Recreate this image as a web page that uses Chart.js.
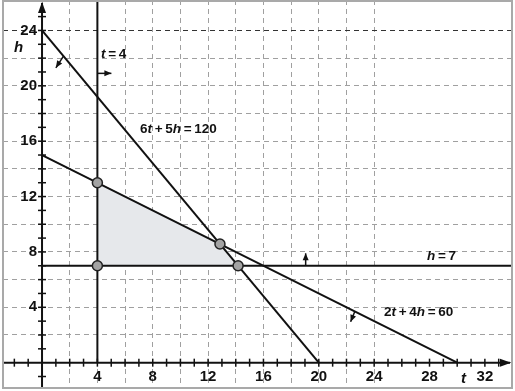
<!DOCTYPE html>
<html>
<head>
<meta charset="utf-8">
<script src="https://cdn.jsdelivr.net/npm/chart.js@4/dist/chart.umd.min.js"></script>
<style>
  html, body { margin: 0; padding: 0; background: #fff; }
  #graph { display: block; }
</style>
</head>
<body>
<canvas id="graph" width="515" height="391"></canvas>
<script>
// Axis ranges (t across, h up)
const tRange = [-2.82, 33.96];
const hRange = [-1.83, 26.2];
const tTickLabels = [4, 8, 12, 16, 20, 24, 28, 32];
const hTickLabels = [4, 8, 12, 16, 20, 24];

// Constraint lines, as [t, h] end points
const line6t5h = [[0, 24], [20, 0]];
const lineT4 = [[4, 0], [4, 26.2]];
const line2t4h = [[0, 15], [30, 0]];
const lineH7 = [[0, 7], [33.96, 7]];

// Feasible region and its corners
const feasibleRegion = [[4, 7], [4, 13], [12.857, 8.571], [14.167, 7], [4, 7]];
const cornerPoints = [[4, 7], [4, 13], [12.857, 8.571], [14.167, 7]];

const toXY = pts => pts.map(p => ({ x: p[0], y: p[1] }));

const FONT = '"Liberation Sans Narrow", "Arial Narrow", "Liberation Sans", sans-serif';
const SP = '\u2009';

// Draw a label made of upright and italic pieces
function drawMath(ctx, x, y, parts, size) {
    let cx = x;
    parts.forEach(([text, italic]) => {
        ctx.font = (italic ? 'italic ' : '') + 'bold ' + size + 'px ' + FONT;
        ctx.fillText(text, cx, y);
        cx += ctx.measureText(text).width;
    });
}

function arrowHead(ctx, x1, y1, x2, y2, len, wid) {
    const a = Math.atan2(y2 - y1, x2 - x1);
    ctx.beginPath();
    ctx.moveTo(x2, y2);
    ctx.lineTo(x2 - len * Math.cos(a) + wid * Math.sin(a), y2 - len * Math.sin(a) - wid * Math.cos(a));
    ctx.lineTo(x2 - len * Math.cos(a) - wid * Math.sin(a), y2 - len * Math.sin(a) + wid * Math.cos(a));
    ctx.closePath();
    ctx.fill();
}

function arrow(ctx, x1, y1, x2, y2) {
    ctx.beginPath();
    ctx.moveTo(x1, y1);
    ctx.lineTo(x2, y2);
    ctx.stroke();
    arrowHead(ctx, x1, y1, x2, y2, 7, 3);
}

// Axes, ticks, frame and labels drawn on the chart's own scales
const axesPlugin = {
    id: 'axesPlugin',
    beforeDatasetsDraw(chart) {
        const { ctx, scales: { x, y }, chartArea: area } = chart;
        const x0 = x.getPixelForValue(0), y0 = y.getPixelForValue(0);
        ctx.save();
        ctx.strokeStyle = '#111';
        ctx.fillStyle = '#111';
        ctx.lineWidth = 2;
        // horizontal axis
        ctx.beginPath();
        ctx.moveTo(area.left, y0);
        ctx.lineTo(area.right - 2, y0);
        ctx.stroke();
        arrowHead(ctx, area.left, y0, area.right - 1, y0, 11, 4);
        // vertical axis
        ctx.beginPath();
        ctx.moveTo(x0, area.bottom);
        ctx.lineTo(x0, area.top + 3);
        ctx.stroke();
        arrowHead(ctx, x0, area.bottom, x0, area.top + 2, 11, 4);
        // minor ticks
        ctx.lineWidth = 1.5;
        for (let t = -2; t <= 33; t++) {
            if (t === 0) continue;
            const px = x.getPixelForValue(t);
            ctx.beginPath();
            ctx.moveTo(px, y0 - 4);
            ctx.lineTo(px, y0 + 4);
            ctx.stroke();
        }
        for (let h = -1; h <= 25; h++) {
            if (h === 0) continue;
            const py = y.getPixelForValue(h);
            ctx.beginPath();
            ctx.moveTo(x0 - 4, py);
            ctx.lineTo(x0 + 4, py);
            ctx.stroke();
        }
        ctx.restore();
    },
    afterDatasetsDraw(chart) {
        const { ctx, scales: { x, y }, chartArea: area } = chart;
        const x0 = x.getPixelForValue(0), y0 = y.getPixelForValue(0);
        const px = t => x.getPixelForValue(t), py = h => y.getPixelForValue(h);
        ctx.save();
        ctx.fillStyle = '#111';
        ctx.strokeStyle = '#111';
        ctx.lineWidth = 1.5;

        // tick labels
        ctx.font = 'bold 15px ' + FONT;
        ctx.textAlign = 'center';
        ctx.textBaseline = 'top';
        tTickLabels.forEach(v => ctx.fillText(String(v), px(v), y0 + 7));
        ctx.textAlign = 'right';
        ctx.textBaseline = 'middle';
        hTickLabels.forEach(v => ctx.fillText(String(v), x0 - 5, py(v)));

        // axis names
        ctx.textAlign = 'left';
        ctx.textBaseline = 'alphabetic';
        drawMath(ctx, 461, 383, [['t', true]], 15);
        drawMath(ctx, 14, 52, [['h', true]], 15);

        // constraint labels
        drawMath(ctx, 101, 58, [['t', true], [SP + '=' + SP + '4', false]], 13.5);
        drawMath(ctx, 140, 133, [['6', false], ['t', true], [SP + '+' + SP + '5', false], ['h', true], [SP + '=' + SP + '120', false]], 13.5);
        drawMath(ctx, 427, 260, [['h', true], [SP + '=' + SP + '7', false]], 13.5);
        drawMath(ctx, 384, 316, [['2', false], ['t', true], [SP + '+' + SP + '4', false], ['h', true], [SP + '=' + SP + '60', false]], 13.5);

        // direction arrows
        arrow(ctx, px(4), py(20.9), px(4) + 14, py(20.9));
        arrow(ctx, px(1.55), py(22.15), px(1.0), py(21.3));
        arrow(ctx, px(19.05), py(7), px(19.05), py(7.9));
        arrow(ctx, px(22.6), py(3.7), px(22.3), py(2.95));

        // frame
        ctx.strokeStyle = '#a9a9a9';
        ctx.lineWidth = 2;
        ctx.strokeRect(area.left, area.top + 1, area.right - area.left, area.bottom - area.top - 1);
        ctx.restore();
    }
};

const gridColor = ctx => {
    const v = ctx.tick ? ctx.tick.value : NaN;
    if (v > 25 || Math.abs(v / 2 - Math.round(v / 2)) > 1e-6) return 'rgba(0,0,0,0)';
    return '#a0a0a0';
};

new Chart(document.getElementById('graph'), {
    type: 'scatter',
    data: {
        datasets: [
            {
                data: toXY(cornerPoints),
                pointRadius: 5,
                pointBackgroundColor: '#a3a3a3',
                pointBorderColor: '#222',
                pointBorderWidth: 1.5,
                showLine: false
            },
            { data: toXY(line6t5h), showLine: true, borderColor: '#111', borderWidth: 2, pointRadius: 0 },
            { data: toXY(lineT4), showLine: true, borderColor: '#111', borderWidth: 2, pointRadius: 0 },
            { data: toXY(line2t4h), showLine: true, borderColor: '#111', borderWidth: 2, pointRadius: 0 },
            { data: toXY(lineH7), showLine: true, borderColor: '#111', borderWidth: 2, pointRadius: 0 },
            {
                data: toXY(feasibleRegion),
                showLine: true,
                borderWidth: 0,
                borderColor: 'rgba(0,0,0,0)',
                backgroundColor: '#e6e8eb',
                fill: 'shape',
                pointRadius: 0
            }
        ]
    },
    options: {
        responsive: false,
        animation: false,
        events: [],
        layout: { padding: { left: 3, right: 3, top: 0, bottom: 3 }, autoPadding: false },
        plugins: { legend: { display: false }, tooltip: { enabled: false } },
        scales: {
            x: {
                type: 'linear',
                min: tRange[0],
                max: tRange[1],
                ticks: { display: false, stepSize: 1 },
                grid: { color: gridColor, lineWidth: 1, drawTicks: false },
                border: { display: false, dash: [5, 4] }
            },
            y: {
                type: 'linear',
                min: hRange[0],
                max: hRange[1],
                ticks: { display: false, stepSize: 1 },
                grid: {
                    color: ctx => (ctx.tick && ctx.tick.value === 24 ? '#333' : gridColor(ctx)),
                    lineWidth: 1,
                    drawTicks: false
                },
                border: { display: false, dash: [5, 4] }
            }
        }
    },
    plugins: [axesPlugin]
});
</script>
</body>
</html>
